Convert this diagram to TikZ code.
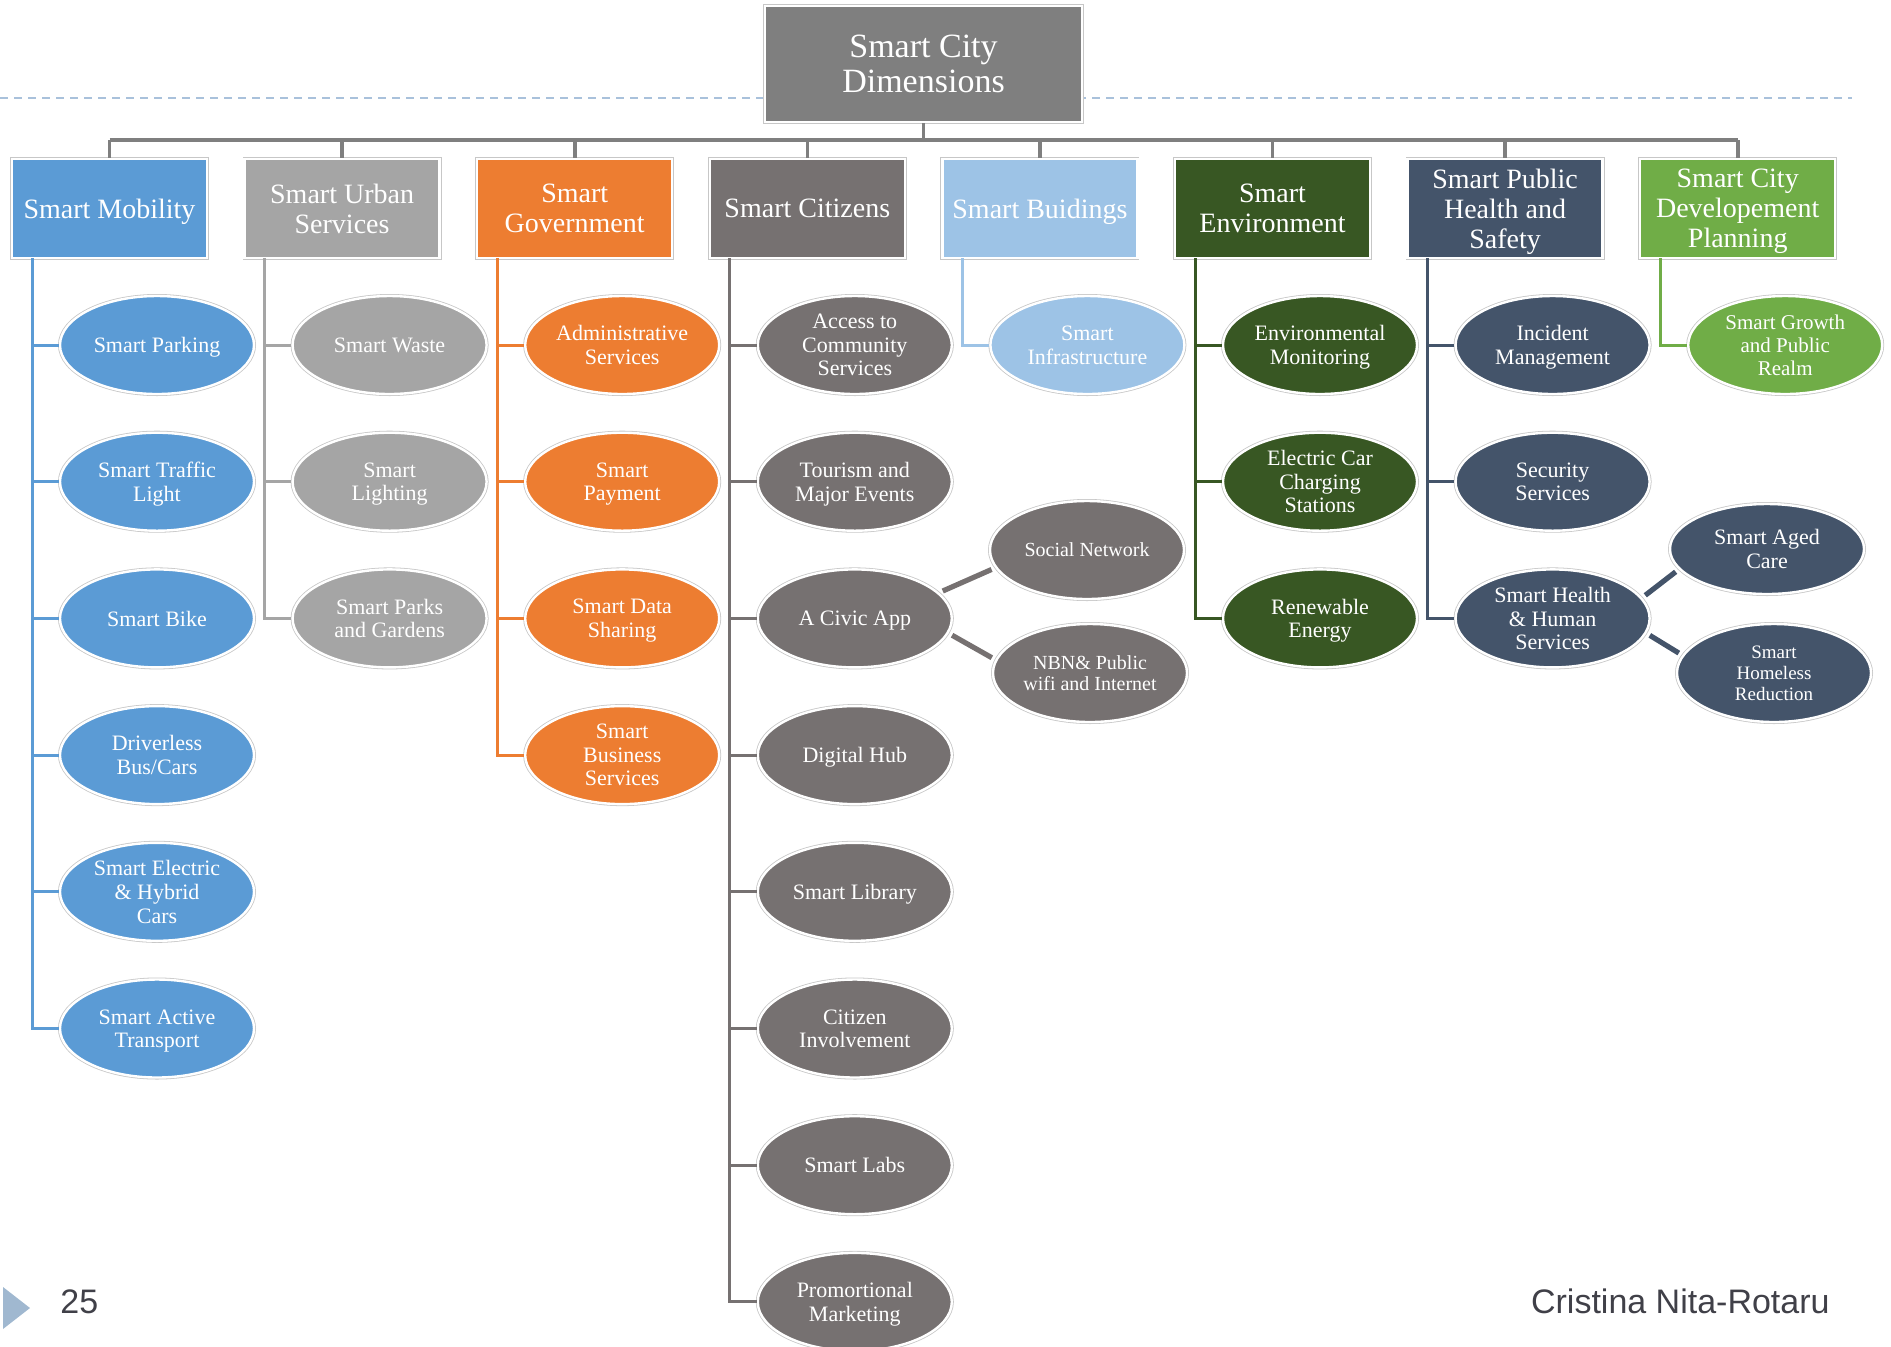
\documentclass[tikz,border=0pt]{standalone}
\usepackage{fontspec}
\setmainfont{Liberation Serif}
\setsansfont{Liberation Sans}
\usetikzlibrary{shapes.geometric}

\definecolor{rootgray}{HTML}{7F7F7F}
\definecolor{mob}{HTML}{5B9BD5}
\definecolor{urb}{HTML}{A5A5A5}
\definecolor{gov}{HTML}{ED7D31}
\definecolor{cit}{HTML}{767171}
\definecolor{bld}{HTML}{9DC3E6}
\definecolor{env}{HTML}{385723}
\definecolor{pub}{HTML}{44546A}
\definecolor{pln}{HTML}{70AD47}
\definecolor{rulecol}{HTML}{A9C1DB}
\definecolor{tricol}{HTML}{A0B8D0}
\definecolor{footcol}{HTML}{404048}

% descenders of the last line are ignored when centring the lettering
\tikzset{
  rim/.style={draw=white, line width=1.2pt, preaction={draw=black!22, line width=2pt}},
  dimbox/.style={rectangle, rim, fill=#1, minimum width=97.5pt, minimum height=49.5pt,
    inner sep=0pt, text=white, align=center, text depth=0pt,
    font=\fontsize{14}{15}\selectfont},
  bub/.style={ellipse, rim, fill=#1, minimum width=97pt, minimum height=49pt,
    inner xsep=0pt, inner ysep=-1pt, text=white, align=center, text depth=0pt,
    font=\fontsize{11}{11.8}\selectfont},
  link/.style={draw=#1, line width=1.5pt},
  sublink/.style={draw=#1, line width=2.6pt, shorten <=2pt, shorten >=2pt},
  bus/.style={draw=rootgray, line width=1.8pt},
  dashrule/.style={draw=rulecol, line width=1pt, dash pattern=on 4pt off 3pt},
  foot/.style={font=\sffamily\fontsize{17}{20}\selectfont, text=footcol, inner sep=0pt},
}

\begin{document}
\begin{tikzpicture}[x=0.5pt, y=-0.5pt]
\useasboundingbox (0,0) rectangle (1891,1346);

% dashed title rule
\coordinate (ruleL) at (0,98);
\coordinate (ruleR) at (1852,98);
\draw[dashrule] (ruleL) -- (ruleR);

% root
\node[dimbox=rootgray, minimum width=158.5pt, minimum height=58pt,
      font=\fontsize{17}{17.5}\selectfont] (root) at (923.5,64) {Smart City\\Dimensions};

% dimensions
\node[dimbox=mob] (d0) at (109.5,208.5) {Smart Mobility};
\node[dimbox=urb] (d1) at (342.1,208.5) {Smart Urban\\Services};
\node[dimbox=gov] (d2) at (574.7,208.5) {Smart\\Government};
\node[dimbox=cit] (d3) at (807.3,208.5) {Smart Citizens};
\node[dimbox=bld] (d4) at (1039.9,208.5) {Smart Buidings};
\node[dimbox=env] (d5) at (1272.5,208.5) {Smart\\Environment};
\node[dimbox=pub] (d6) at (1505.1,208.5) {Smart Public\\Health and\\Safety};
\node[dimbox=pln] (d7) at (1737.7,208.5) {Smart City\\Developement\\Planning};

% bus
\coordinate (busL) at (109.5,140);
\coordinate (busR) at (1737.7,140);
\draw[bus] (root.south) -- (root.south |- busL);
\draw[bus] (busL) -- (busR);
\foreach \d in {d0,d1,d2,d3,d4,d5,d6,d7}
  \draw[bus] (\d.north) -- (\d.north |- busL);

% trunk tops
\coordinate (t0) at (32,258);
\coordinate (t1) at (264.6,258);
\coordinate (t2) at (497.2,258);
\coordinate (t3) at (729.8,258);
\coordinate (t4) at (962.4,258);
\coordinate (t5) at (1195,258);
\coordinate (t6) at (1427.6,258);
\coordinate (t7) at (1660.2,258);

% Smart Mobility
\node[bub=mob] (m1) at (157,345) {Smart Parking};
\node[bub=mob] (m2) at (157,481.7) {Smart Traffic\\Light};
\node[bub=mob] (m3) at (157,618.4) {Smart Bike};
\node[bub=mob] (m4) at (157,755.1) {Driverless\\Bus/Cars};
\node[bub=mob] (m5) at (157,891.8) {Smart Electric\\\& Hybrid\\Cars};
\node[bub=mob] (m6) at (157,1028.5) {Smart Active\\Transport};
\foreach \c in {m1,m2,m3,m4,m5,m6} \draw[link=mob] (t0) |- (\c.west);

% Smart Urban Services
\node[bub=urb] (u1) at (389.6,345) {Smart Waste};
\node[bub=urb] (u2) at (389.6,481.7) {Smart\\Lighting};
\node[bub=urb] (u3) at (389.6,618.4) {Smart Parks\\and Gardens};
\foreach \c in {u1,u2,u3} \draw[link=urb] (t1) |- (\c.west);

% Smart Government
\node[bub=gov] (g1) at (622.2,345) {Administrative\\Services};
\node[bub=gov] (g2) at (622.2,481.7) {Smart\\Payment};
\node[bub=gov] (g3) at (622.2,618.4) {Smart Data\\Sharing};
\node[bub=gov] (g4) at (622.2,755.1) {Smart\\Business\\Services};
\foreach \c in {g1,g2,g3,g4} \draw[link=gov] (t2) |- (\c.west);

% Smart Citizens
\node[bub=cit] (c1) at (854.8,345) {Access to\\Community\\Services};
\node[bub=cit] (c2) at (854.8,481.7) {Tourism and\\Major Events};
\node[bub=cit] (civic) at (854.8,618.4) {A Civic App};
\node[bub=cit] (c4) at (854.8,755.1) {Digital Hub};
\node[bub=cit] (c5) at (854.8,891.8) {Smart Library};
\node[bub=cit] (c6) at (854.8,1028.5) {Citizen\\Involvement};
\node[bub=cit] (c7) at (854.8,1165.2) {Smart Labs};
\node[bub=cit] (c8) at (854.8,1301.9) {Promortional\\Marketing};
\foreach \c in {c1,c2,civic,c4,c5,c6,c7,c8} \draw[link=cit] (t3) |- (\c.west);

\node[bub=cit, font=\fontsize{10}{11}\selectfont] (social) at (1087,550) {Social Network};
\node[bub=cit, font=\fontsize{10}{10.6}\selectfont] (nbn) at (1090,673) {NBN\& Public\\wifi and Internet};
\draw[sublink=cit] (civic.17) -- (social.191);
\draw[sublink=cit] (civic.-9) -- (nbn.172);

% Smart Buildings
\node[bub=bld] (b1) at (1087.4,345) {Smart\\Infrastructure};
\draw[link=bld] (t4) |- (b1.west);

% Smart Environment
\node[bub=env] (e1) at (1320,345) {Environmental\\Monitoring};
\node[bub=env] (e2) at (1320,481.7) {Electric Car\\Charging\\Stations};
\node[bub=env] (e3) at (1320,618.4) {Renewable\\Energy};
\foreach \c in {e1,e2,e3} \draw[link=env] (t5) |- (\c.west);

% Smart Public Health and Safety
\node[bub=pub] (p1) at (1552.6,345) {Incident\\Management};
\node[bub=pub] (p2) at (1552.6,481.7) {Security\\Services};
\node[bub=pub] (health) at (1552.6,618.4) {Smart Health\\\& Human\\Services};
\foreach \c in {p1,p2,health} \draw[link=pub] (t6) |- (\c.west);

\node[bub=pub, minimum height=45pt] (aged) at (1767,549) {Smart Aged\\Care};
\node[bub=pub, font=\fontsize{9.5}{10.4}\selectfont] (homeless) at (1774,673) {Smart\\Homeless\\Reduction};
\draw[sublink=pub] (health.13) -- (aged.193);
\draw[sublink=pub] (health.-9) -- (homeless.169);

% Smart City Developement Planning
\node[bub=pln, font=\fontsize{10.5}{11.4}\selectfont] (l1) at (1785.2,345) {Smart Growth\\and Public\\Realm};
\draw[link=pln] (t7) |- (l1.west);

% footer
\fill[tricol] (3,1287) -- (3,1329) -- (30,1308) -- cycle;
\node[foot, anchor=base west] (pageno) at (60,1313) {25};
\node[foot, anchor=base east] (author) at (1830,1313) {Cristina Nita-Rotaru};
\end{tikzpicture}
\end{document}
